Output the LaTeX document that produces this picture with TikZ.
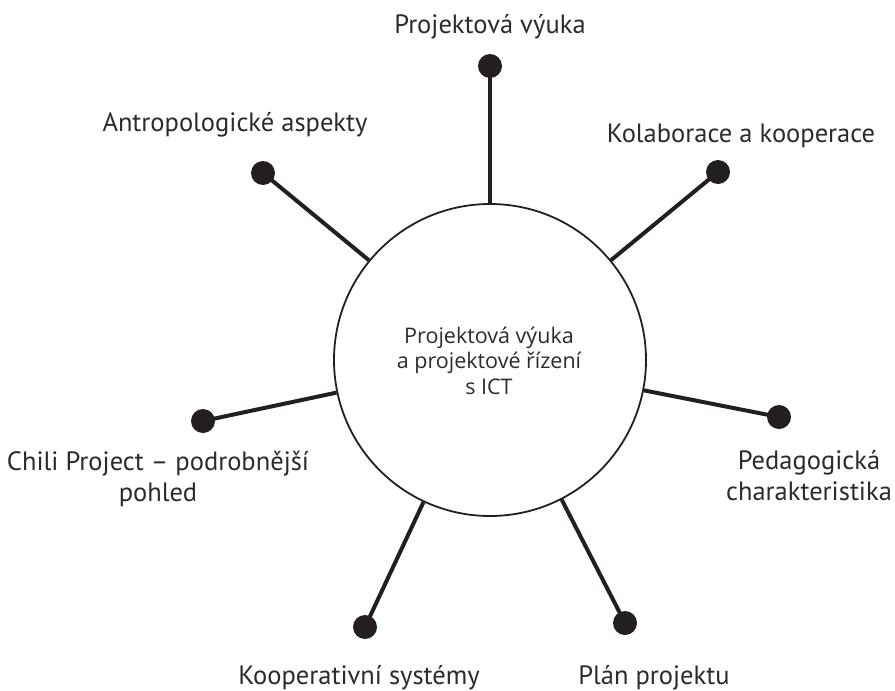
\documentclass[tikz,border=0pt]{standalone}
\usepackage{fontspec}
\setmainfont{PT Sans}
\newfontfamily\hubfont{Open Sans}
\definecolor{ink}{HTML}{231F20}
\definecolor{txt}{HTML}{2B2B2B}
\begin{document}
\begin{tikzpicture}[x=1pt,y=-1pt,
  hub/.style={circle,draw=ink,line width=1.8pt,minimum size=312pt,inner sep=0pt},
  dot/.style={circle,fill=ink,minimum size=24pt,inner sep=0pt},
  spoke/.style={draw=ink,line width=4pt},
  label/.style={text=txt,font=\fontsize{26.5}{30.5}\selectfont,align=center,anchor=base,inner sep=0pt},
  hubtext/.style={text=txt,font=\hubfont\fontsize{21.5}{25.5}\selectfont,align=center,anchor=base,inner sep=0pt}]
\useasboundingbox (0,0) rectangle (895,691);

% central circle; the text node is placed by the baseline of its last line
\node[hub] (c) at (490,360) {};
\node[hubtext] (ct) at (489,394) {Projektová výuka\\a projektové řízení\\s ICT};

% end dots
\node[dot] (d1) at (490,66) {};
\node[dot] (d2) at (718,172) {};
\node[dot] (d3) at (779,417) {};
\node[dot] (d4) at (625,623) {};
\node[dot] (d5) at (365,627) {};
\node[dot] (d6) at (203,421) {};
\node[dot] (d7) at (263,173) {};

% spokes
\foreach \d in {d1,d2,d3,d4,d5,d6,d7}
  \draw[spoke] (\d.center) -- (c);

% labels
\node[label] (l1) at (490,33) {Projektová výuka};
\node[label] (l2) at (741,142) {Kolaborace a kooperace};
\node[label] (l3) at (809,500) {Pedagogická\\charakteristika};
\node[label] (l4) at (654,684) {Plán projektu};
\node[label] (l5) at (359,684) {Kooperativní systémy};
\node[label] (l6) at (158,501) {Chili Project – podrobnější\\pohled};
\node[label] (l7) at (235,131) {Antropologické aspekty};
\end{tikzpicture}
\end{document}
